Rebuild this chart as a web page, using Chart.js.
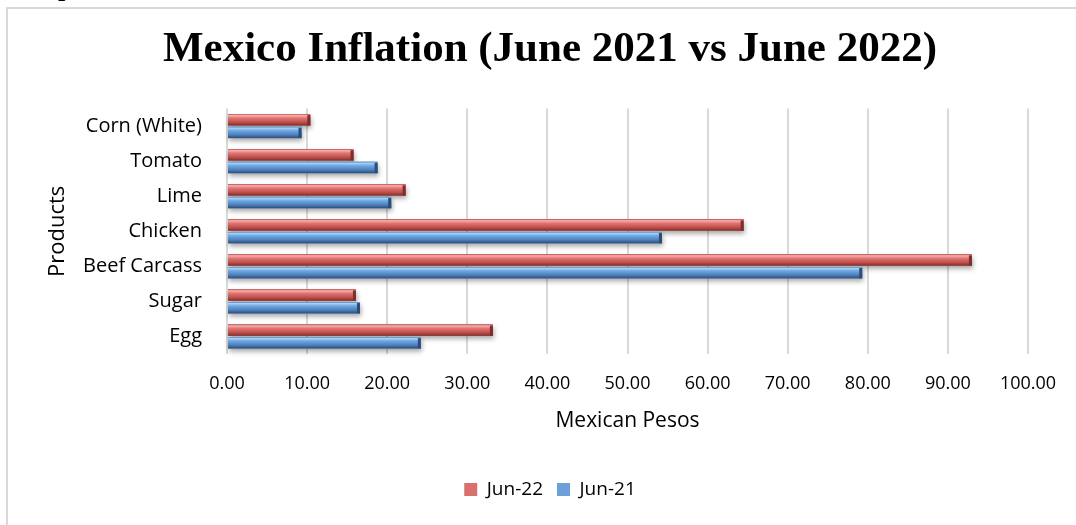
<!DOCTYPE html>
<html>
<head>
<meta charset="utf-8">
<script src="https://cdn.jsdelivr.net/npm/chart.js@4/dist/chart.umd.min.js"></script>
<style>
  html, body { margin: 0; padding: 0; background: #fff; }
  body { width: 1076px; height: 525px; position: relative; overflow: hidden; }
  #frame { position: absolute; left: 6px; top: 7px; width: 1100px; height: 560px;
           border-left: 2px solid #d9d9d9; border-top: 2px solid #d9d9d9; }
  #frag { position: absolute; left: 58px; top: -27px; font: bold 26px "Liberation Serif", serif; color: #000; }
  #wrap { position: absolute; left: 0; top: 0; width: 1076px; height: 525px; }
</style>
</head>
<body>
<div id="frag">p</div>
<div id="frame"></div>
<div id="wrap"><canvas id="bar-chart" width="1076" height="525"></canvas></div>
<script>
// products, top to bottom
const products = ['Corn (White)', 'Tomato', 'Lime', 'Chicken', 'Beef Carcass', 'Sugar', 'Egg'];
// prices in Mexican pesos
const jun22 = [10.4, 15.8, 22.3, 64.5, 93.0, 16.1, 33.2];
const jun21 = [9.3, 18.8, 20.5, 54.3, 79.3, 16.6, 24.2];
const seriesNames = ['Jun-22', 'Jun-21'];

// bevel look: light top, dark bottom, darker right end, soft shadow
const shades = [
  { light: '#f7b0ae', mid: '#e07572', base: '#c0504d', dark: '#7e2f2c' },
  { light: '#a7d3fa', mid: '#6ea6e0', base: '#4f81bd', dark: '#2b4d78' }
];

const bevelPlugin = {
  id: 'bevel',
  beforeDatasetsDraw(chart) {
    const ctx = chart.ctx;
    ctx.save();
    chart.data.datasets.forEach((ds, i) => {
      const meta = chart.getDatasetMeta(i);
      meta.data.forEach(bar => {
        const { x, y, base, height } = bar.getProps(['x', 'y', 'base', 'height'], true);
        ctx.shadowColor = 'rgba(0,0,0,0.35)';
        ctx.shadowBlur = 5;
        ctx.shadowOffsetX = 1;
        ctx.shadowOffsetY = 3;
        ctx.fillStyle = '#888';
        ctx.fillRect(base, y - height / 2, x - base, height);
      });
    });
    ctx.restore();
  },
  afterDatasetsDraw(chart) {
    const ctx = chart.ctx;
    ctx.save();
    chart.data.datasets.forEach((ds, i) => {
      const meta = chart.getDatasetMeta(i);
      const c = shades[i];
      meta.data.forEach(bar => {
        const { x, y, base, height } = bar.getProps(['x', 'y', 'base', 'height'], true);
        const top = y - height / 2;
        const g = ctx.createLinearGradient(0, top, 0, top + height);
        g.addColorStop(0, c.base);
        g.addColorStop(0.12, c.light);
        g.addColorStop(0.35, c.mid);
        g.addColorStop(0.7, c.base);
        g.addColorStop(1, c.dark);
        ctx.fillStyle = g;
        ctx.fillRect(base, top, x - base, height);
        ctx.fillStyle = c.dark;
        ctx.fillRect(x - 3, top + 1, 3, height - 1);
      });
    });
    ctx.restore();
  }
};

const data = {
  labels: products,
  datasets: [{
    label: seriesNames[0],
    data: jun22,
    backgroundColor: '#d9706d',
    borderColor: '#8c3431',
    borderWidth: 0
  },
  {
    label: seriesNames[1],
    data: jun21,
    backgroundColor: '#6f9fd8',
    borderColor: '#2b4d78',
    borderWidth: 0
  }]
};

const config = {
  type: 'bar',
  data: data,
  plugins: [bevelPlugin],
  options: {
    indexAxis: 'y',
    responsive: false,
    animation: false,
    categoryPercentage: 0.72,
    barPercentage: 0.9,
    layout: { padding: { top: 10, left: 72, right: 48, bottom: 16 } },
    scales: {
      x: {
        min: 0,
        max: 100,
        ticks: {
          stepSize: 10,
          padding: 19,
          color: '#000',
          font: { family: 'Open Sans', size: 18 },
          callback: v => Number(v).toFixed(2)
        },
        grid: { color: '#d9d9d9', lineWidth: 2, drawTicks: false },
        border: { display: false },
        title: {
          display: true,
          text: 'Mexican Pesos',
          color: '#000',
          font: { family: 'Open Sans', size: 21 },
          padding: { top: 4, bottom: 32 }
        },
        afterFit: scale => { scale.height = 112; }
      },
      y: {
        ticks: {
          padding: 17,
          color: '#000',
          font: { family: 'Open Sans', size: 20 }
        },
        grid: { display: false },
        border: { display: false },
        title: {
          display: true,
          text: 'Products',
          color: '#000',
          font: { family: 'Open Sans', size: 22 },
          padding: { top: -27, bottom: 0 }
        },
        afterFit: scale => { scale.width = 155; }
      }
    },
    plugins: {
      title: {
        display: true,
        text: 'Mexico Inflation (June 2021 vs June 2022)',
        color: '#000',
        font: { family: 'Liberation Serif', size: 43, weight: 'bold' },
        padding: { top: 14, bottom: 33 }
      },
      legend: {
        position: 'bottom',
        labels: {
          boxWidth: 13,
          boxHeight: 13,
          padding: 14,
          color: '#000',
          font: { family: 'Open Sans', size: 19 }
        }
      },
      tooltip: { enabled: false }
    }
  }
};

window.onload = function() {
  var ctx = document.getElementById('bar-chart').getContext('2d');
  window.myBar = new Chart(ctx, config);
};
</script>
</body>
</html>
